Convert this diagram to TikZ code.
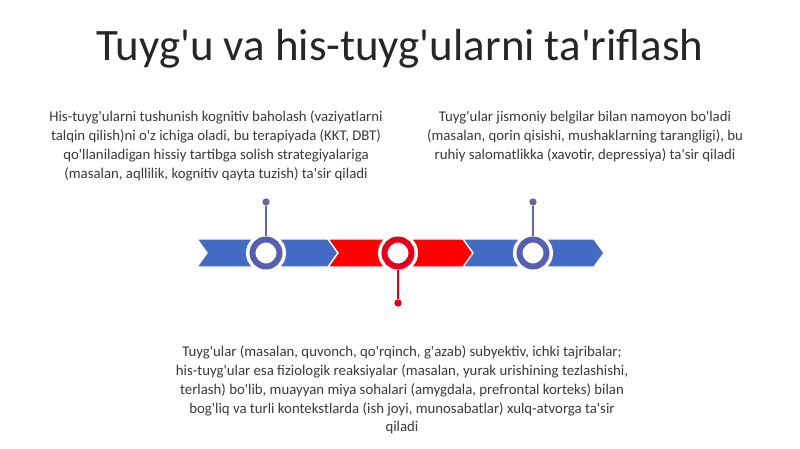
\documentclass[tikz,border=0pt]{standalone}
\usepackage{fontspec}
\setmainfont{Carlito}[Ligatures=TeXOff]
\usetikzlibrary{positioning}
\definecolor{chevblue}{RGB}{68,107,196}
\definecolor{chevred}{RGB}{255,0,0}
\definecolor{ringblue}{RGB}{88,94,178}
\definecolor{ringred}{RGB}{228,0,28}
\definecolor{pinblue}{RGB}{96,106,158}
\definecolor{textgray}{RGB}{58,58,58}
\tikzset{every picture/.style={line width=0.75pt}}
\tikzset{
  chev/.style={draw=white, line width=1pt},
  ring/.style={circle, draw=#1, fill=white, line width=4.5pt, inner sep=0pt, minimum size=20.25pt,
    preaction={draw=white, line width=9.75pt}},
  pindot/.style={circle, fill=#1, inner sep=0pt, minimum size=5.5pt},
  pinline/.style={draw=#1, line width=1.2pt},
  para/.style={align=center, text=textgray, font=\fontsize{11.1pt}{14.1pt}\selectfont, inner sep=0pt},
}

\begin{document}
\begin{tikzpicture}[x=0.75pt,y=0.75pt,yscale=-1,xscale=1]
\fill[white] (0,0) rectangle (800,449);

% Text Node
\node[font=\fontsize{33.7pt}{40pt}\selectfont, text=black!85, inner sep=0pt] (title) at (400,49) {Tuyg'u va his-tuyg'ularni ta'riflash};

%Shape: Chevrons
\fill[chevblue, chev] (197,239) -- (328,239) -- (338,253) -- (328,267) -- (197,267) -- (207,253) -- cycle;
\fill[chevred, chev] (328,239) -- (463,239) -- (473,253) -- (463,267) -- (328,267) -- (338,253) -- cycle;
\fill[chevblue, chev] (463,239) -- (594,239) -- (604,253) -- (594,267) -- (463,267) -- (473,253) -- cycle;

% Rings
\node[ring=ringblue] (c1) at (266,253) {};
\node[ring=ringred] (c2) at (398,253) {};
\node[ring=ringblue] (c3) at (533,253) {};

% Pins
\node[pindot=pinblue] (d1) at (266,202) {};
\node[pindot=ringred] (d2) at (398,303) {};
\node[pindot=pinblue] (d3) at (533,202) {};
\draw[pinline=pinblue] (c1.north) -- (d1);
\draw[pinline=ringred] (c2.south) -- (d2);
\draw[pinline=pinblue] (c3.north) -- (d3);

% Text Node
\node[para] (t1) at (216,146) {His-tuyg'ularni tushunish kognitiv baholash (vaziyatlarni\\talqin qilish)ni o'z ichiga oladi, bu terapiyada (KKT, DBT)\\qo'llaniladigan hissiy tartibga solish strategiyalariga\\(masalan, aqllilik, kognitiv qayta tuzish) ta'sir qiladi};
% Text Node
\node[para] (t3) at (585,136.5) {Tuyg'ular jismoniy belgilar bilan namoyon bo'ladi\\(masalan, qorin qisishi, mushaklarning tarangligi), bu\\ruhiy salomatlikka (xavotir, depressiya) ta'sir qiladi};
% Text Node
\node[para] (t2) at (402,390) {Tuyg'ular (masalan, quvonch, qo'rqinch, g'azab) subyektiv, ichki tajribalar;\\his-tuyg'ular esa fiziologik reaksiyalar (masalan, yurak urishining tezlashishi,\\terlash) bo'lib, muayyan miya sohalari (amygdala, prefrontal korteks) bilan\\bog'liq va turli kontekstlarda (ish joyi, munosabatlar) xulq-atvorga ta'sir\\qiladi};

\end{tikzpicture}
\end{document}
